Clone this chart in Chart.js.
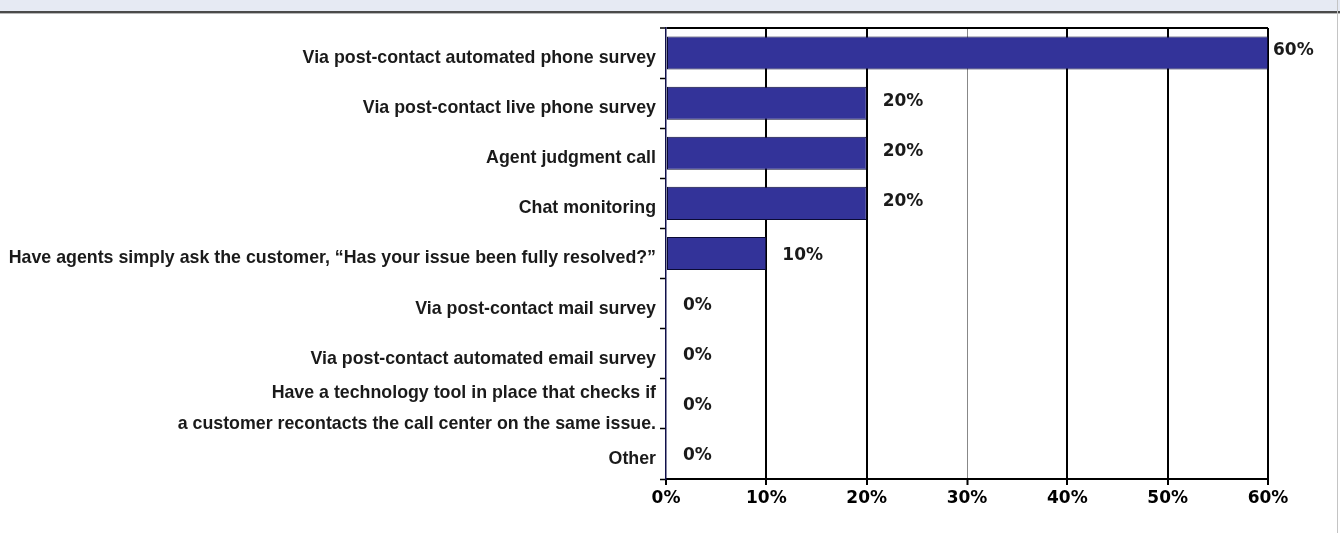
<!DOCTYPE html>
<html>
<head>
<meta charset="utf-8">
<script src="https://cdn.jsdelivr.net/npm/chart.js@4/dist/chart.umd.min.js"></script>
<style>
html,body{margin:0;padding:0;background:#fff;}
#wrap{position:relative;width:1340px;height:533px;}
canvas{display:block;}
</style>
</head>
<body>
<div id="wrap"><canvas id="c" width="1340" height="533"></canvas></div>
<script>
const categories = [
  "Via post-contact automated phone survey",
  "Via post-contact live phone survey",
  "Agent judgment call",
  "Chat monitoring",
  "Have agents simply ask the customer, \u201CHas your issue been fully resolved?\u201D",
  "Via post-contact mail survey",
  "Via post-contact automated email survey",
  ["Have a technology tool in place that checks if", "a customer recontacts the call center on the same issue."],
  "Other"
];
const values = [60, 20, 20, 20, 10, 0, 0, 0, 0];
const xTicks = [0, 10, 20, 30, 40, 50, 60];

const frame = {
  id: 'frame',
  beforeDraw(chart) {
    const c = chart.ctx;
    c.save();
    c.fillStyle = '#fff';
    c.fillRect(0, 0, 1340, 533);
    c.fillStyle = '#E6EAF3';
    c.fillRect(0, 0, 1340, 11);
    c.fillStyle = '#4a4a4a';
    c.fillRect(0, 11, 1340, 2);
    c.fillStyle = '#b8b8b8';
    c.fillRect(0, 13, 1340, 1);
    c.fillStyle = '#c4c4c4';
    c.fillRect(1337, 0, 1, 533);
    c.restore();
  }
};

const valueLabels = {
  id: 'valueLabels',
  afterDatasetsDraw(chart) {
    const c = chart.ctx;
    const meta = chart.getDatasetMeta(0);
    const xs = chart.scales.x;
    c.save();
    c.font = 'bold 17px "DejaVu Sans", sans-serif';
    c.fillStyle = '#1a1a1a';
    c.textBaseline = 'middle';
    c.textAlign = 'left';
    meta.data.forEach((bar, i) => {
      const v = values[i];
      const x = xs.getPixelForValue(v) + (v >= 60 ? 5 : (v === 0 ? 17 : 16));
      const y = bar.y + (v >= 20 ? -2 : 2);
      c.fillText(v + '%', x, y);
    });
    c.restore();
  }
};

new Chart(document.getElementById('c'), {
  type: 'bar',
  data: {
    labels: categories,
    datasets: [{
      data: values,
      backgroundColor: '#333399',
      borderColor: '#0a0a33',
      borderWidth: 1,
      barPercentage: 0.66,
      categoryPercentage: 1.0,
      borderSkipped: false
    }]
  },
  options: {
    indexAxis: 'y',
    responsive: false,
    animation: false,
    devicePixelRatio: 1,
    layout: { padding: { top: 28, right: 72, left: 0, bottom: 0 } },
    plugins: { legend: { display: false }, tooltip: { enabled: false } },
    scales: {
      x: {
        type: 'linear',
        min: 0, max: 60,
        afterBuildTicks(scale) { scale.ticks = xTicks.map(v => ({ value: v })); },
        afterFit(scale) { scale.height = 54; },
        border: { display: true, color: '#000', width: 2 },
        grid: {
          color: ctx => ctx.tick && ctx.tick.value === 0 ? 'rgba(0,0,0,0)' : (ctx.tick && ctx.tick.value === 30 ? '#888' : '#000'),
          lineWidth: ctx => ctx.tick && ctx.tick.value === 30 ? 1 : 2,
          tickColor: '#000',
          tickWidth: 2,
          tickLength: 6,
          drawTicks: true
        },
        ticks: {
          callback: v => v + '%',
          color: '#000',
          padding: 3,
          font: { family: '"DejaVu Sans", sans-serif', weight: 'bold', size: 17 }
        }
      },
      y: {
        afterFit(scale) { scale.width = 666; },
        border: { display: true, color: '#10104a', width: 1.5 },
        grid: {
          offset: true,
          color: ctx => ctx.index === 0 ? '#000' : 'rgba(0,0,0,0)',
          lineWidth: ctx => ctx.index === 0 ? 2 : 1,
          tickColor: '#000',
          tickWidth: 1.5,
          tickLength: 6,
          drawTicks: true
        },
        ticks: {
          autoSkip: false,
          color: '#1a1a1a',
          padding: 4,
          labelOffset: 5,
          font: { family: '"Liberation Sans", Arial, sans-serif', weight: 'bold', size: 17.8, lineHeight: 1.75 }
        }
      }
    }
  },
  plugins: [frame, valueLabels]
});
</script>
</body>
</html>
